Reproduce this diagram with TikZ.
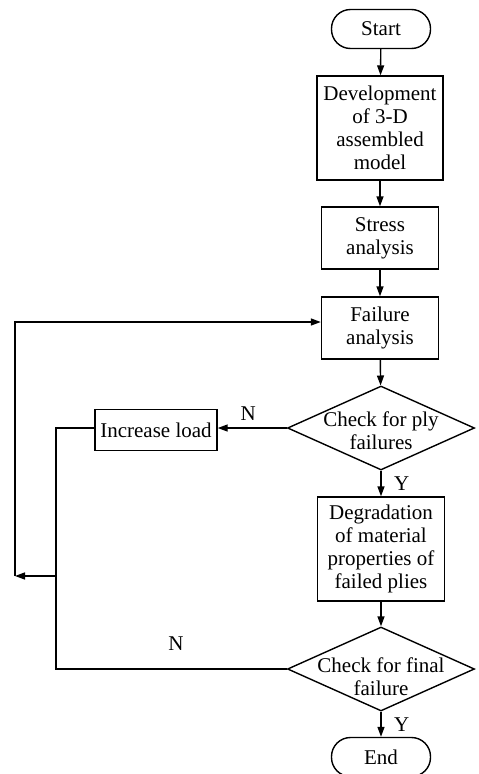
\documentclass[tikz,border=0pt]{standalone}
\usepackage{fontspec}
\setmainfont{Liberation Serif}
\usetikzlibrary{arrows.meta,calc,shapes.geometric}

\begin{document}
\begin{tikzpicture}[>={Triangle[length=10pt,width=7pt]}, x=1pt, y=-1pt, line width=1.4pt,
  every node/.style={font=\fontsize{21}{23}\selectfont},
  box/.style={rectangle,draw,align=center,inner sep=0pt},
  terminal/.style={rectangle,draw,rounded corners=19pt,minimum width=99pt,minimum height=39pt},
  decision/.style={diamond,draw,inner sep=0pt,minimum width=187pt,minimum height=84pt}]
  \useasboundingbox (0,0) rectangle (479,774);
  \node[terminal] (start) at (381,29) {Start};
  \node[box,minimum width=126pt,minimum height=104pt] (dev) at (380,128)
    {Development\\of 3-D\\assembled\\model};
  \node[box,minimum width=117pt,minimum height=62pt] (stress) at (380,238) {Stress\\analysis};
  \node[box,minimum width=117pt,minimum height=62pt] (fail) at (380,328) {Failure\\analysis};
  \node[decision] (ply) at (381,428) {};
  \node[align=center] at ([yshift=-3pt]ply) {Check for ply\\failures};
  \node[box,minimum width=122pt,minimum height=41pt] (inc) at (156,430) {Increase load};
  \node[box,minimum width=127pt,minimum height=104pt] (deg) at (381,549)
    {Degradation\\of material\\properties of\\failed plies};
  \node[decision] (final) at (381,669) {};
  \node[align=center] at ([yshift=-8pt]final) {Check for final\\failure};
  \node[terminal] (end) at (381,757) {End};
  \coordinate (join) at (56,576);
  \coordinate (back) at (15,576);
  \draw[->] (start) -- (dev);
  \draw[->] (dev) -- (stress);
  \draw[->] (stress) -- (fail);
  \draw[->] (fail) -- (ply);
  \draw[->] (ply.west) -- node[pos=0.56,above=3pt] {N} (inc.east |- ply.west);
  \draw[->] (ply) -- node[right=9pt] {Y} (deg);
  \draw[->] (deg) -- (final);
  \draw[->] (final) -- node[right=9pt] {Y} (end);
  \draw (inc.west |- ply.west) -| (join);
  \draw (final.west) -- node[pos=0.48,above=14pt] {N} (final.west -| join) -- (join);
  \draw[->] (join) -- (back);
  \draw[->] (back) |- ([yshift=6pt]fail.west);
\end{tikzpicture}
\end{document}
